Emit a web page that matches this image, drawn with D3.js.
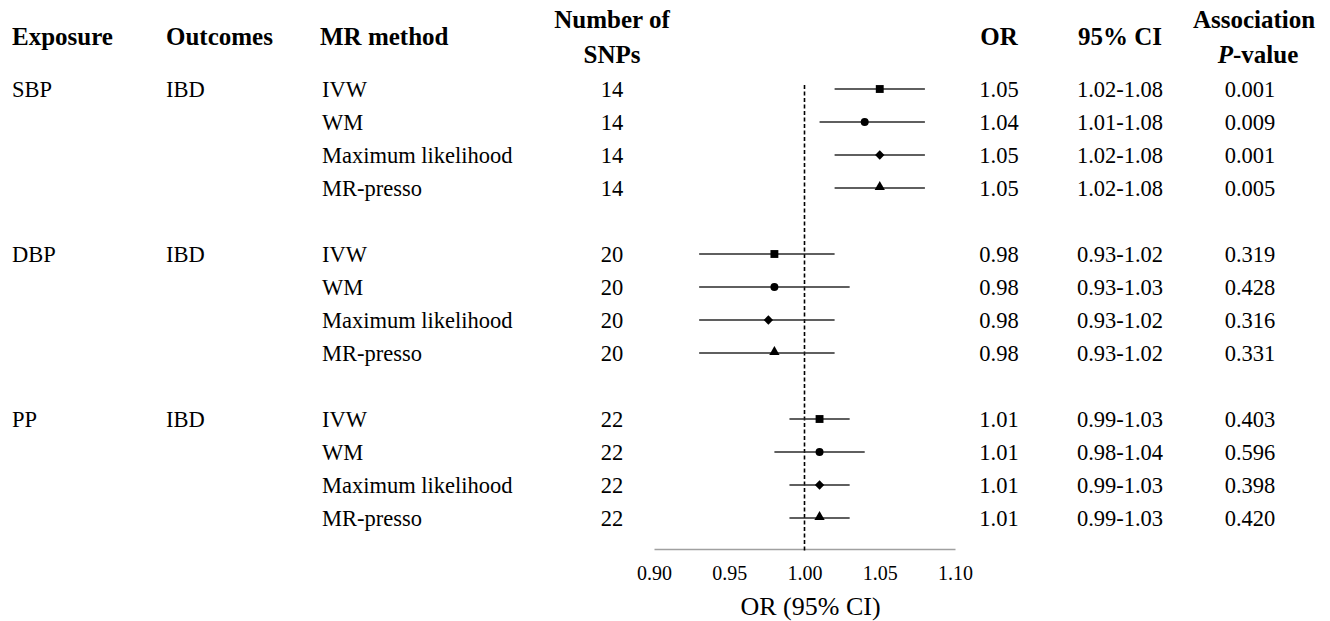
<!DOCTYPE html>
<html>
<head>
<meta charset="utf-8">
<script src="https://cdn.jsdelivr.net/npm/d3@7"></script>
<style>
  html, body { margin: 0; padding: 0; background: #fff; }
  svg { display: block; font-family: "Liberation Serif", "Times New Roman", serif; }
</style>
</head>
<body>
<svg id="chart" width="1330" height="621"></svg>
<script>
// ---------- data ----------
const exposures = ["SBP", "DBP", "PP"];
const outcomes = ["IBD", "IBD", "IBD"];
const methods = ["IVW", "WM", "Maximum likelihood", "MR-presso"];
const shapes = ["square", "circle", "diamond", "triangle"];
const snps = [14, 20, 22];

// plotted values
const orValues = [
  [1.05, 1.04, 1.05, 1.05],
  [0.98, 0.98, 0.976, 0.98],
  [1.01, 1.01, 1.01, 1.01]
];
const lowerValues = [
  [1.02, 1.01, 1.02, 1.02],
  [0.93, 0.93, 0.93, 0.93],
  [0.99, 0.98, 0.99, 0.99]
];
const upperValues = [
  [1.08, 1.08, 1.08, 1.08],
  [1.02, 1.03, 1.02, 1.02],
  [1.03, 1.04, 1.03, 1.03]
];
// printed text columns
const orText = [
  ["1.05", "1.04", "1.05", "1.05"],
  ["0.98", "0.98", "0.98", "0.98"],
  ["1.01", "1.01", "1.01", "1.01"]
];
const ciText = [
  ["1.02-1.08", "1.01-1.08", "1.02-1.08", "1.02-1.08"],
  ["0.93-1.02", "0.93-1.03", "0.93-1.02", "0.93-1.02"],
  ["0.99-1.03", "0.98-1.04", "0.99-1.03", "0.99-1.03"]
];
const pText = [
  ["0.001", "0.009", "0.001", "0.005"],
  ["0.319", "0.428", "0.316", "0.331"],
  ["0.403", "0.596", "0.398", "0.420"]
];
const xTicks = [0.90, 0.95, 1.00, 1.05, 1.10];
const xTitle = "OR (95% CI)";
const refValue = 1.0;

// ---------- build rows ----------
const rows = [];
exposures.forEach((e, g) => {
  methods.forEach((m, k) => {
    rows.push({
      idx: g * 5 + k, first: k === 0, exposure: e, outcome: outcomes[g],
      method: m, shape: shapes[k], snp: snps[g],
      or: orValues[g][k], lo: lowerValues[g][k], hi: upperValues[g][k],
      orT: orText[g][k], ciT: ciText[g][k], pT: pText[g][k]
    });
  });
});

const svg = d3.select("#chart");
const x = d3.scaleLinear().domain([0.90, 1.10]).range([654, 955]);
const y = d3.scaleLinear().domain([0, 13]).range([89, 518]);
const baseOff = 7.8;
const bodySize = 22.5;
const headSize = 25;

// ---------- headers ----------
const headers = [
  { lines: ["Exposure"], x: 12, anchor: "start" },
  { lines: ["Outcomes"], x: 166, anchor: "start" },
  { lines: ["MR method"], x: 320, anchor: "start" },
  { lines: ["Number of", "SNPs"], x: 612, anchor: "middle" },
  { lines: ["OR"], x: 999, anchor: "middle" },
  { lines: ["95% CI"], x: 1120, anchor: "middle" },
  { lines: ["Association", null], x: 1254, anchor: "middle" }
];
const hg = svg.append("g").attr("font-weight", "bold").attr("font-size", headSize).attr("fill", "#000");
headers.forEach(h => {
  if (h.lines.length === 1) {
    hg.append("text").attr("x", h.x).attr("y", 45).attr("text-anchor", h.anchor).text(h.lines[0]);
  } else {
    hg.append("text").attr("x", h.x).attr("y", 28).attr("text-anchor", h.anchor).text(h.lines[0]);
    const t = hg.append("text").attr("x", h.x + (h.lines[1] === null ? 4 : 0)).attr("y", 63).attr("text-anchor", h.anchor);
    if (h.lines[1] === null) {
      t.append("tspan").attr("font-style", "italic").text("P");
      t.append("tspan").text("-value");
    } else {
      t.text(h.lines[1]);
    }
  }
});

// ---------- body text ----------
const tg = svg.append("g").attr("font-size", bodySize).attr("fill", "#000");
rows.forEach(r => {
  const yy = y(r.idx) + baseOff;
  if (r.first) {
    tg.append("text").attr("x", 12).attr("y", yy).text(r.exposure);
    tg.append("text").attr("x", 166).attr("y", yy).text(r.outcome);
  }
  tg.append("text").attr("x", 322).attr("y", yy).text(r.method);
  tg.append("text").attr("x", 612).attr("y", yy).attr("text-anchor", "middle").text(r.snp);
  tg.append("text").attr("x", 999).attr("y", yy).attr("text-anchor", "middle").text(r.orT);
  tg.append("text").attr("x", 1120).attr("y", yy).attr("text-anchor", "middle").text(r.ciT);
  tg.append("text").attr("x", 1250).attr("y", yy).attr("text-anchor", "middle").text(r.pT);
});

// ---------- axis ----------
const axisG = svg.append("g").attr("transform", "translate(0,549)");
const axis = d3.axisBottom(x).tickValues(xTicks).tickFormat(d3.format(".2f")).tickSize(0).tickPadding(0);
axisG.call(axis);
axisG.select(".domain").attr("stroke", "#a0a0a0").attr("stroke-width", 1.3);
axisG.selectAll(".tick text")
  .attr("font-family", "Liberation Serif, Times New Roman, serif")
  .attr("font-size", 20).attr("fill", "#000")
  .attr("dy", null).attr("y", 31);

svg.append("text").attr("x", x(1.0) + 6).attr("y", 615).attr("text-anchor", "middle")
  .attr("font-size", 26).attr("fill", "#000").text(xTitle);

// ---------- reference line ----------
svg.append("line")
  .attr("x1", x(refValue)).attr("x2", x(refValue))
  .attr("y1", 85).attr("y2", 552)
  .attr("stroke", "#000").attr("stroke-width", 1.6).attr("stroke-dasharray", "4,2.5");

// ---------- CI lines ----------
const pg = svg.append("g");
pg.selectAll("line.ci").data(rows).join("line").attr("class", "ci")
  .attr("x1", d => x(d.lo)).attr("x2", d => x(d.hi))
  .attr("y1", d => y(d.idx)).attr("y2", d => y(d.idx))
  .attr("stroke", "#2a2a2a").attr("stroke-width", 1.7);

// ---------- markers ----------
const symMap = {
  square: d3.symbolSquare, circle: d3.symbolCircle,
  diamond: d3.symbolDiamond2, triangle: d3.symbolTriangle
};
const sizeMap = { square: 62, circle: 50, diamond: 56, triangle: 46 };
pg.selectAll("path.mk").data(rows).join("path").attr("class", "mk")
  .attr("transform", d => `translate(${x(d.or)},${y(d.idx) + (d.shape === "triangle" ? -1 : 0)})`)
  .attr("d", d => d3.symbol(symMap[d.shape], sizeMap[d.shape])())
  .attr("fill", "#000");
</script>
</body>
</html>
